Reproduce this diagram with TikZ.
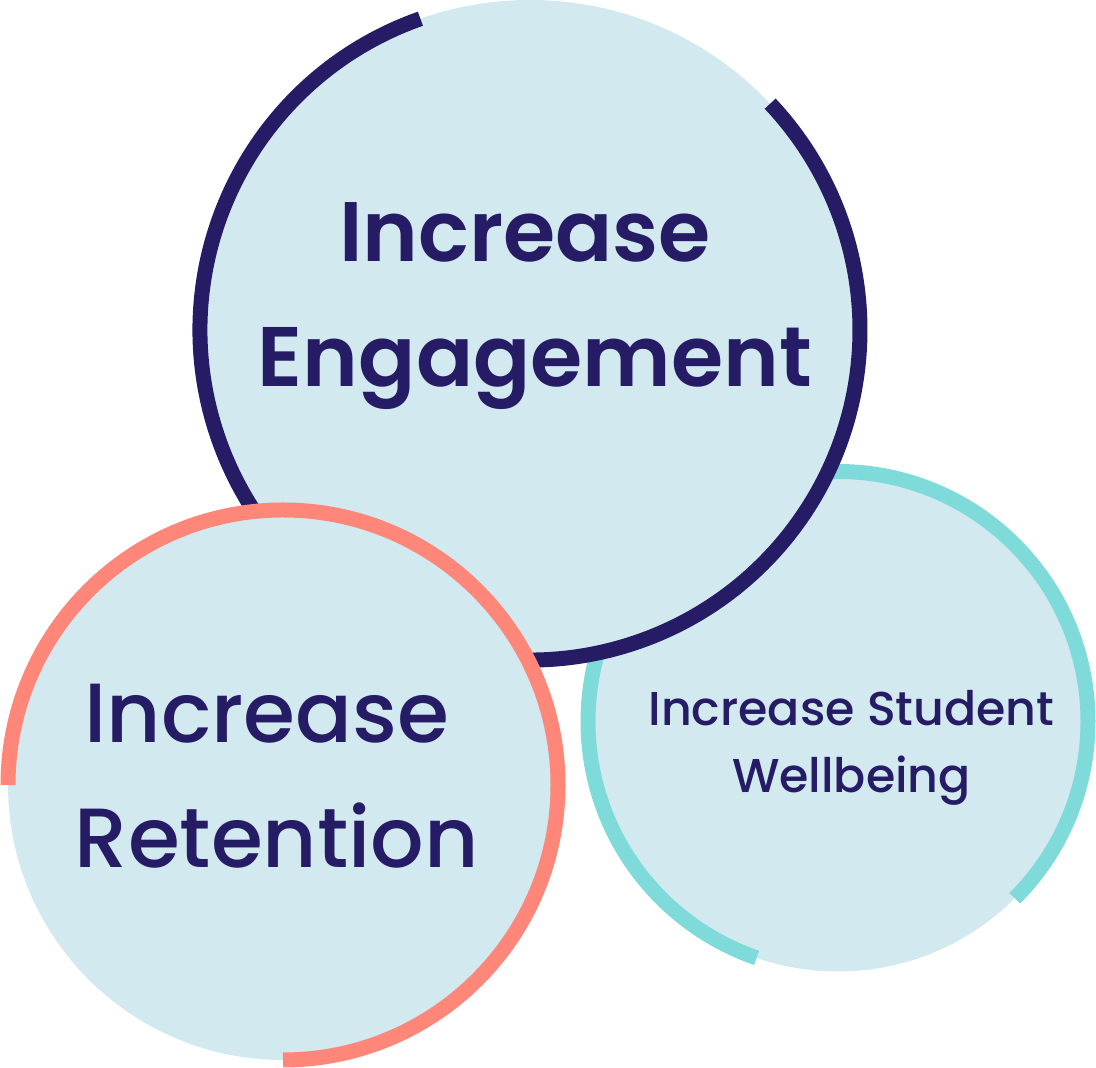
\documentclass[tikz,border=0pt]{standalone}
\usepackage{fontspec}
\setmainfont{Poppins}
\newfontfamily\popsemi{Poppins SemiBold}
\newfontfamily\popmed{Poppins Medium}
\definecolor{fillblue}{HTML}{D1E9EF}
\definecolor{navy}{HTML}{261C66}
\definecolor{salmon}{HTML}{FF877A}
\definecolor{teal}{HTML}{7FDADA}
\begin{document}
\begin{tikzpicture}[x=1pt,y=1pt,
  disc/.style={fill=fillblue},
  ring/.style={line width=15pt},
  big/.style={anchor=base,text=navy,inner sep=0pt},
  small/.style={anchor=base,text=navy,inner sep=0pt,font=\popmed\fontsize{47.5}{56}\selectfont}]
\useasboundingbox (0,0) rectangle (1096,1068);
% Wellbeing circle
\coordinate (cw) at (838,346.5);
\fill[disc] (cw) circle[radius=250];
\draw[ring,teal] (cw) ++(-45:250) arc[start angle=-45,end angle=251,radius=250];
% Engagement circle
\coordinate (ce) at (530,738);
\fill[disc] (ce) circle[radius=330];
\draw[ring,navy] (ce) ++(109.4:330) arc[start angle=109.4,end angle=403.3,radius=330];
% Retention circle
\coordinate (cr) at (283,283);
\fill[disc] (cr) circle[radius=275];
\draw[ring,salmon] (cr) ++(180:275) arc[start angle=180,end angle=-90,radius=275];
% texts
\node[big,font=\popsemi\fontsize{84.5}{100}\selectfont] (e1) at (525,806) {Increase};
\node[big,font=\popsemi\fontsize{84.5}{100}\selectfont] (e2) at (535,681) {Engagement};
\node[big,font=\popmed\fontsize{84}{100}\selectfont] (r1) at (267,325) {Increase};
\node[big,font=\popmed\fontsize{84}{100}\selectfont] (r2) at (277,200) {Retention};
\node[small] (w1) at (851.5,342) {Increase Student};
\node[small] (w2) at (851.5,275) {Wellbeing};
\end{tikzpicture}
\end{document}
